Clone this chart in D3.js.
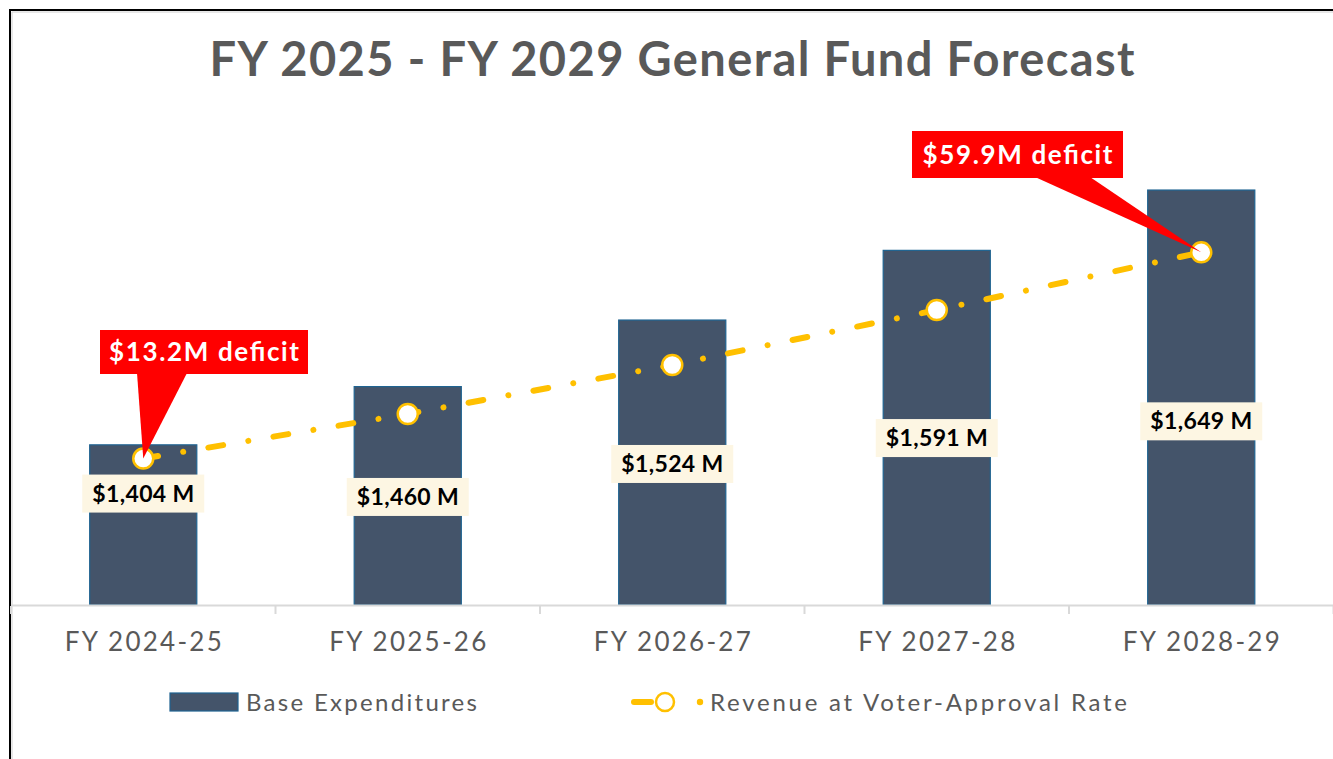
<!DOCTYPE html>
<html>
<head>
<meta charset="utf-8">
<script src="https://cdn.jsdelivr.net/npm/d3@7"></script>
<style>
  html, body { margin: 0; padding: 0; background: #ffffff; }
  svg { display: block; }
  text { font-family: "Lato", "Open Sans", sans-serif; }
</style>
</head>
<body>
<svg id="chart" width="1333" height="759"></svg>
<script>
// ---------- data ----------
const title = "FY 2025 - FY 2029 General Fund Forecast";
const categories = ["FY 2024-25", "FY 2025-26", "FY 2026-27", "FY 2027-28", "FY 2028-29"];
const baseExpenditures = [1404, 1460, 1524, 1591, 1649];
const revenueVoterApproval = [1390.8, 1433.7, 1480.8, 1533.6, 1589.1];
const valueLabels = ["$1,404 M", "$1,460 M", "$1,524 M", "$1,591 M", "$1,649 M"];
const deficitCategories = ["FY 2024-25", "FY 2028-29"];
const deficitLabels = ["$13.2M deficit", "$59.9M deficit"];
const seriesNames = ["Base Expenditures", "Revenue at Voter-Approval Rate"];
const yDomain = [1250, 1700];

// ---------- layout ----------
const W = 1333, H = 759;
const plot = { left: 11, right: 1333.5, top: 137, bottom: 605 };
const barFill = "#44546A", barStroke = "#1F6391";
const gold = "#FFC000";
const textGray = "#595959";

const svg = d3.select("#chart");
svg.append("rect").attr("width", W).attr("height", H).attr("fill", "#fff");

// frame
svg.append("path")
  .attr("d", `M10,${H} L10,10 L${W},10`)
  .attr("fill", "none").attr("stroke", "#000").attr("stroke-width", 2);
svg.append("path")
  .attr("d", `M12,${H} L12,12 L${W},12`)
  .attr("fill", "none").attr("stroke", "#d0d0d0").attr("stroke-width", 1);

// title
svg.append("text")
  .attr("x", 672).attr("y", 76)
  .attr("text-anchor", "middle")
  .attr("font-size", 47).attr("font-weight", 700)
  .attr("fill", textGray)
  .attr("textLength", 925).attr("lengthAdjust", "spacing")
  .text(title);

const x = d3.scaleBand().domain(categories)
  .range([plot.left, plot.right])
  .paddingInner(0.595).paddingOuter(0.2975);
const cx = d => x(d) + x.bandwidth() / 2;
const y = d3.scaleLinear().domain(yDomain).range([plot.bottom, plot.top]);

// bars
svg.append("g").selectAll("rect").data(categories).join("rect")
  .attr("x", d => x(d))
  .attr("y", (d, i) => y(baseExpenditures[i]))
  .attr("width", x.bandwidth())
  .attr("height", (d, i) => plot.bottom - y(baseExpenditures[i]))
  .attr("fill", barFill).attr("stroke", barStroke).attr("stroke-width", 1.2);

// axis
const axisG = svg.append("g").attr("transform", `translate(0,${plot.bottom})`);
axisG.append("line").attr("x1", plot.left).attr("x2", W).attr("y1", 0.5).attr("y2", 0.5)
  .attr("stroke", "#D9D9D9").attr("stroke-width", 2);
const boundaries = categories.map(c => x(c) - x.step() * x.paddingInner() / 2);
boundaries.push(plot.right);
axisG.selectAll("line.tick").data(boundaries).join("line").attr("class", "tick")
  .attr("x1", d => d).attr("x2", d => d).attr("y1", 1).attr("y2", 9)
  .attr("stroke", "#D9D9D9").attr("stroke-width", 2);
const xAxis = d3.axisBottom(x).tickSize(0).tickPadding(0);
const axisLabels = svg.append("g").attr("transform", `translate(0,${plot.bottom})`).call(xAxis);
axisLabels.select(".domain").remove();
axisLabels.selectAll("text")
  .attr("y", 46).attr("dy", null)
  .attr("font-size", 26).attr("fill", textGray)
  .attr("font-family", "Lato, sans-serif")
  .attr("textLength", 157).attr("lengthAdjust", "spacing");

// revenue line
const line = d3.line().x((d, i) => cx(categories[i])).y(d => y(d));
svg.append("path").datum(revenueVoterApproval)
  .attr("d", line)
  .attr("fill", "none").attr("stroke", gold).attr("stroke-width", 6)
  .attr("stroke-linecap", "round")
  .attr("stroke-dasharray", "15,25.5,0.01,25.5");

// value labels (positioned below line markers)
const labelDrop = [35, 83, 99, 128, 169];
const lblG = svg.append("g").selectAll("g").data(categories).join("g")
  .attr("transform", (d, i) => `translate(${cx(d)},${y(revenueVoterApproval[i]) + labelDrop[i]})`);
lblG.append("rect").attr("x", -61).attr("y", -19).attr("width", 122).attr("height", 38)
  .attr("fill", "#FDF6E3");
lblG.append("text").attr("text-anchor", "middle").attr("y", 8)
  .attr("font-size", 23).attr("font-weight", 700).attr("fill", "#000")
  .attr("textLength", 102).attr("lengthAdjust", "spacing")
  .text((d, i) => valueLabels[i]);

// markers
svg.append("g").selectAll("circle").data(revenueVoterApproval).join("circle")
  .attr("cx", (d, i) => cx(categories[i])).attr("cy", d => y(d))
  .attr("r", 10).attr("fill", "#fff").attr("stroke", gold).attr("stroke-width", 2.5);

// deficit callouts
const callouts = [
  { box: [100, 330, 208, 44], base: [137, 187] },
  { box: [912, 131, 211, 47], base: [1035, 1090] }
];
deficitCategories.forEach((c, k) => {
  const i = categories.indexOf(c);
  const tx = cx(c), ty = y(revenueVoterApproval[i]);
  const cfg = callouts[k];
  const [bx, by, bw, bh] = cfg.box;
  const g = svg.append("g");
  g.append("path")
    .attr("d", `M${cfg.base[0]},${by + bh - 1} L${tx},${ty} L${cfg.base[1]},${by + bh - 1} Z`)
    .attr("fill", "#FF0000");
  g.append("rect").attr("x", bx).attr("y", by).attr("width", bw).attr("height", bh)
    .attr("fill", "#FF0000");
  g.append("text").attr("x", bx + bw / 2).attr("y", by + bh / 2 + 9)
    .attr("text-anchor", "middle")
    .attr("font-size", 26).attr("font-weight", 700).attr("fill", "#fff")
    .attr("textLength", 190).attr("lengthAdjust", "spacing")
    .text(deficitLabels[k]);
});

// legend
const lg = svg.append("g");
lg.append("rect").attr("x", 170).attr("y", 693).attr("width", 68).attr("height", 18)
  .attr("fill", barFill).attr("stroke", barStroke).attr("stroke-width", 1.2);
lg.append("text").attr("x", 246).attr("y", 711)
  .attr("font-size", 24).attr("fill", textGray)
  .attr("textLength", 231).attr("lengthAdjust", "spacing")
  .text(seriesNames[0]);
lg.append("line").attr("x1", 634).attr("x2", 651).attr("y1", 702).attr("y2", 702)
  .attr("stroke", gold).attr("stroke-width", 6).attr("stroke-linecap", "round");
lg.append("circle").attr("cx", 665).attr("cy", 702).attr("r", 9)
  .attr("fill", "#fff").attr("stroke", gold).attr("stroke-width", 2.5);
lg.append("circle").attr("cx", 700).attr("cy", 702).attr("r", 3.2).attr("fill", gold);
lg.append("text").attr("x", 710).attr("y", 711)
  .attr("font-size", 24).attr("fill", textGray)
  .attr("textLength", 417).attr("lengthAdjust", "spacing")
  .text(seriesNames[1]);
</script>
</body>
</html>
